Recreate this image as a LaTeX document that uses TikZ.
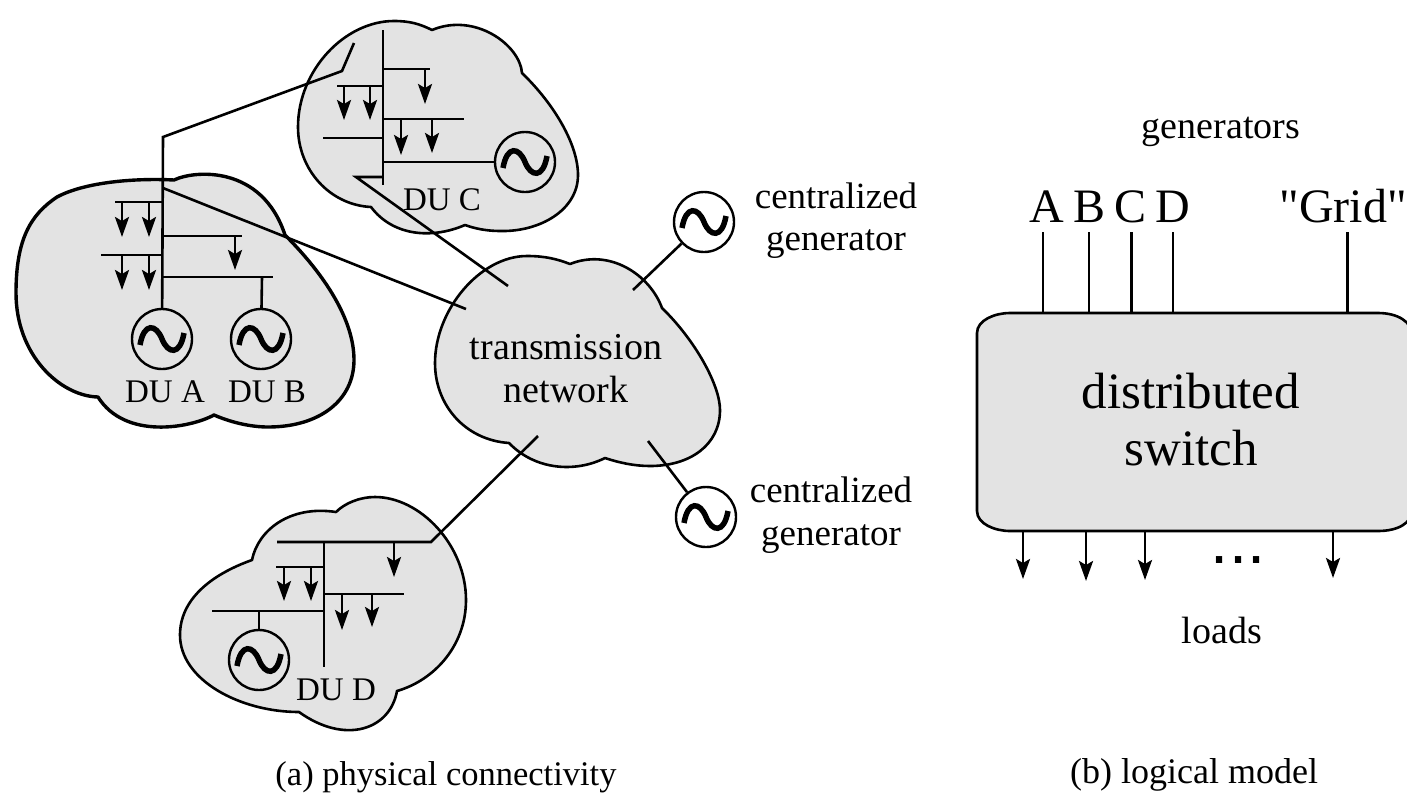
\documentclass[tikz,border=0pt]{standalone}
\usepackage{fontspec}
\setmainfont{Liberation Serif}
\newfontfamily\quotefont{Liberation Serif}
\newfontfamily\dotfont{Liberation Sans}
\usetikzlibrary{arrows.meta}

\begin{document}
\begin{tikzpicture}[x=1pt,y=-1pt]
\tikzstyle{cloudarea}=[fill=black!11,draw=black,line width=2.6pt,line join=round]
\tikzstyle{busline}=[draw=black,line width=2.6pt]
\tikzstyle{loadline}=[busline,-{Stealth[length=20pt,width=14pt,inset=4pt]}]
\tikzstyle{gen}=[circle,draw=black,line width=2.4pt,minimum size=60pt,inner sep=0pt,
  path picture={\draw[line width=5.5pt,shift={(path picture bounding box.center)}]
    (-22,6) .. controls (-18,-17) and (-6,-15) .. (0,0) .. controls (6,15) and (18,17) .. (22,-6);}]
\tikzstyle{lbl}=[inner sep=0pt,anchor=base,font=\fontsize{37}{37}\selectfont]
\tikzstyle{dulbl}=[inner sep=0pt,anchor=base,font=\fontsize{33}{33}\selectfont]
\tikzstyle{biglbl}=[inner sep=0pt,anchor=base,font=\fontsize{48}{48}\selectfont]
\useasboundingbox (0,0) rectangle (1407,801);
\clip (0,0) rectangle (1407,801);

% clouds
\draw[cloudarea,line width=3.4pt] (98,397) .. controls (60,396) and (16,355) .. (16,293)
.. controls (16,240) and (30,215) .. (57,197) .. controls (85,182) and (135,178) .. (174,180)
.. controls (195,170) and (262,165) .. (285,235)
.. controls (325,275) and (354,320) .. (354,360) .. controls (354,400) and (320,427) .. (268,427)
.. controls (250,427) and (230,422) .. (214,415)
.. controls (190,428) and (125,440) .. (98,397) -- cycle;
\draw[cloudarea] (371,207) .. controls (330,205) and (298,170) .. (298,127)
.. controls (298,70) and (345,21) .. (394,21) .. controls (410,21) and (420,24) .. (432,30)
.. controls (475,12) and (520,45) .. (522,73)
.. controls (555,105) and (578,145) .. (578,175) .. controls (578,210) and (540,232) .. (500,231)
.. controls (488,231) and (476,229) .. (465,225)
.. controls (430,240) and (392,235) .. (371,207) -- cycle;
\draw[cloudarea] (252,560) .. controls (210,575) and (180,600) .. (180,635)
.. controls (180,680) and (240,712) .. (299,712)
.. controls (345,745) and (390,730) .. (397,691)
.. controls (435,680) and (466,645) .. (466,600) .. controls (466,545) and (420,497) .. (375,497)
.. controls (360,497) and (345,503) .. (336,512)
.. controls (290,505) and (258,530) .. (252,560) -- cycle;
\draw[cloudarea] (509,443) .. controls (465,440) and (435,405) .. (435,363)
.. controls (435,310) and (480,256) .. (527,256) .. controls (545,256) and (557,259) .. (570,264)
.. controls (610,248) and (650,275) .. (662,308)
.. controls (695,340) and (720,385) .. (720,410) .. controls (720,445) and (690,466) .. (650,466)
.. controls (635,466) and (620,463) .. (605,458)
.. controls (575,473) and (535,470) .. (509,443) -- cycle;

% generators
\node[gen] (genA) at (162,339) {};
\node[gen] (genB) at (261,339) {};
\node[gen] (genC) at (525,162) {};
\node[gen] (genD) at (259,660) {};
\node[gen] (genTop) at (704,222) {};
\node[gen] (genBottom) at (706,517) {};

% DU A and B
\draw[busline] (354,43) -- (342,71) -- (163,137) -- (genA);
\draw[busline] (163,188) -- (466,309);
\draw[busline] (115,202) -- (163,202);
\draw[loadline] (122,202) -- (122,237);
\draw[loadline] (149,202) -- (149,237);
\draw[busline] (163,236) -- (242,236);
\draw[loadline] (235,236) -- (235,270);
\draw[busline] (101,255) -- (163,255);
\draw[loadline] (122,255) -- (122,290);
\draw[loadline] (149,255) -- (149,290);
\draw[busline] (163,277) -- (273,277);
\draw[busline] (262,277) -- (genB);

% DU C
\draw[busline] (383,30) -- (383,185);
\draw[busline] (383,69) -- (430,69);
\draw[loadline] (425,69) -- (425,104);
\draw[busline] (337,86) -- (383,86);
\draw[loadline] (344,86) -- (344,120);
\draw[loadline] (370,86) -- (370,120);
\draw[busline] (383,119) -- (464,119);
\draw[loadline] (401,119) -- (401,155);
\draw[loadline] (432,119) -- (432,153);
\draw[busline] (323,138) -- (383,138);
\draw[busline] (383,162) -- (genC);
\draw[busline] (383,177) -- (356,177) -- (508,286);

% DU D
\draw[busline] (277,542) -- (431,542) -- (538,436);
\draw[busline] (324,542) -- (324,667);
\draw[loadline] (394,542) -- (394,577);
\draw[busline] (276,567) -- (324,567);
\draw[loadline] (284,567) -- (284,601);
\draw[loadline] (311,567) -- (311,601);
\draw[busline] (324,594) -- (404,594);
\draw[loadline] (342,594) -- (342,630);
\draw[loadline] (372,594) -- (372,627);
\draw[busline] (212,611) -- (324,611);
\draw[busline] (259,611) -- (genD);

% centralized generators
\coordinate (feedTop) at (633,290);
\coordinate (feedBottom) at (648,441);
\draw[busline] (feedTop) -- (genTop);
\draw[busline] (feedBottom) -- (genBottom);

% labels of the left part
\node[dulbl] (duA) at (165,402) {DU A};
\node[dulbl] (duB) at (267,402) {DU B};
\node[dulbl] (duC) at (442,210) {DU C};
\node[dulbl] (duD) at (336,700) {DU D};
\node[lbl,font=\fontsize{38}{38}\selectfont] (trans) at (566,359) {transmission};
\node[lbl,font=\fontsize{38}{38}\selectfont] (net) at (566,402) {network};
\node[lbl] (centTop) at (836,208) {centralized};
\node[lbl] (centTopB) at (836,250) {generator};
\node[lbl] (centBottom) at (831,502) {centralized};
\node[lbl] (centBottomB) at (831,545) {generator};
\node[lbl,font=\fontsize{34.5}{34.5}\selectfont] (capA) at (446,785) {(a) physical connectivity};

% distributed switch
\draw[cloudarea] (977,333) .. controls (977,320) and (995,313) .. (1010,313) -- (1378,313)
.. controls (1398,313) and (1412,322) .. (1412,335) -- (1412,510)
.. controls (1412,523) and (1398,531) .. (1378,531) -- (1010,531)
.. controls (995,531) and (977,524) .. (977,511) -- cycle;
\node[inner sep=0pt,minimum width=435pt,minimum height=218pt] (switch) at (1194.5,422) {};
\node[lbl,font=\fontsize{51}{51}\selectfont] (distA) at (1191,408) {distributed};
\node[lbl,font=\fontsize{51}{51}\selectfont] (distB) at (1191,465) {switch};

\node[lbl,font=\fontsize{38}{38}\selectfont] (gens) at (1221,138) {generators};
\node[biglbl] (nameA) at (1047,222) {A};
\node[biglbl] (nameB) at (1089,222) {B};
\node[biglbl] (nameC) at (1130,222) {C};
\node[biglbl] (nameD) at (1173,222) {D};
\node[biglbl] (nameGrid) at (1343,222) {\quotefont "Grid"};
\coordinate (feedA) at (1043,232);
\coordinate (feedB) at (1089,232);
\coordinate (feedC) at (1131.5,232);
\coordinate (feedD) at (1173,232);
\coordinate (feedGrid) at (1347.5,232);
\draw[busline] (feedA) -- (feedA |- switch.north);
\draw[busline] (feedB) -- (feedB |- switch.north);
\draw[busline] (feedC) -- (feedC |- switch.north);
\draw[busline] (feedD) -- (feedD |- switch.north);
\draw[busline] (feedGrid) -- (feedGrid |- switch.north);

\coordinate (loadA) at (1023,579);
\coordinate (loadB) at (1086,581);
\coordinate (loadC) at (1145,580);
\coordinate (loadD) at (1333,578);
\draw[loadline] (loadA |- switch.south) -- (loadA);
\draw[loadline] (loadB |- switch.south) -- (loadB);
\draw[loadline] (loadC |- switch.south) -- (loadC);
\draw[loadline] (loadD |- switch.south) -- (loadD);
\node[lbl,font=\fontsize{65}{65}\selectfont\dotfont] (dots) at (1238,563) {...};
\node[lbl,font=\fontsize{38}{38}\selectfont] (loads) at (1222,643) {loads};
\node[lbl,font=\fontsize{36}{36}\selectfont] (capB) at (1194,783) {(b) logical model};
\end{tikzpicture}
\end{document}
